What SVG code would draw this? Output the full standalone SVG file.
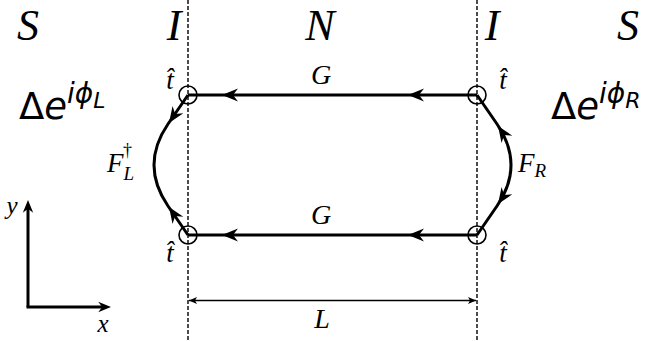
<svg xmlns="http://www.w3.org/2000/svg" width="646" height="341" viewBox="0 0 646 341">
<style>
.dash{stroke:#000;stroke-width:1.4;stroke-dasharray:4 2;fill:none}
.thick{stroke:#000;stroke-width:3;fill:none}
.circ{stroke:#000;stroke-width:1.6;fill:none}
.thin{stroke:#000;stroke-width:1.3;fill:none}
.m{font-family:"Liberation Serif","DejaVu Serif",serif;font-style:italic;fill:#000}
.s{font-family:"DejaVu Sans",sans-serif;fill:#000}
</style>
<defs>
<path id="ah" d="M0,0 L-16,-6.5 L-11,0 L-16,6.5 Z" fill="#000"/>
<path id="ahs" d="M0,0 L-8,-3.5 L-6,0 L-8,3.5 Z" fill="#000"/>
</defs>
<rect width="646" height="341" fill="#fff"/>
<g id="interfaces">
<line class="dash" x1="188" y1="0" x2="188" y2="341"/>
<line class="dash" x1="477" y1="0" x2="477" y2="341"/>
</g>
<g id="region-labels">
<text class="m" x="28" y="40" font-size="44" text-anchor="middle">S</text>
<text class="m" x="174" y="40" font-size="44" text-anchor="middle">I</text>
<text class="m" x="320" y="40" font-size="44" text-anchor="middle">N</text>
<text class="m" x="492" y="40" font-size="44" text-anchor="middle">I</text>
<text class="m" x="628" y="40" font-size="44" text-anchor="middle">S</text>
</g>
<g id="connectors">
<line class="thick" x1="477" y1="95" x2="188" y2="95"/>
<line class="thick" x1="477" y1="235" x2="188" y2="235"/>
<use href="#ah" transform="translate(222,95) rotate(180)"/>
<use href="#ah" transform="translate(408,95) rotate(180)"/>
<use href="#ah" transform="translate(222,235) rotate(180)"/>
<use href="#ah" transform="translate(408,235) rotate(180)"/>
<path class="thick" d="M188,95 L168,124 Q140,165 168,206 L188,235"/>
<use href="#ah" transform="translate(169,123) rotate(124)"/>
<use href="#ah" transform="translate(169,207) rotate(-124)"/>
<path class="thick" d="M477,95 L497,124 Q525,165 497,206 L477,235"/>
<use href="#ah" transform="translate(498,126) rotate(-124)"/>
<use href="#ah" transform="translate(498,204) rotate(124)"/>
</g>
<g id="vertices">
<circle class="circ" cx="188" cy="95" r="9"/>
<circle class="circ" cx="477" cy="95" r="9"/>
<circle class="circ" cx="188" cy="235" r="9"/>
<circle class="circ" cx="477" cy="235" r="9"/>
</g>
<g id="labels">
<text class="m" x="321" y="84" font-size="28" text-anchor="middle">G</text>
<text class="m" x="321" y="224" font-size="28" text-anchor="middle">G</text>
<text class="m" x="170" y="89" font-size="27" text-anchor="middle">t̂</text>
<text class="m" x="503" y="89" font-size="27" text-anchor="middle">t̂</text>
<text class="m" x="170" y="262" font-size="27" text-anchor="middle">t̂</text>
<text class="m" x="503" y="262" font-size="27" text-anchor="middle">t̂</text>
<text class="m" x="107" y="172" font-size="27">F<tspan font-size="19" dy="8">L</tspan><tspan font-size="18" dx="-11" dy="-24" font-style="normal">†</tspan></text>
<text class="m" x="518" y="172" font-size="27">F<tspan font-size="19" dy="5">R</tspan></text>
<text class="s" x="19" y="119" font-size="37">Δ<tspan font-style="italic">e</tspan><tspan font-size="28" dy="-16" font-style="italic">iϕ</tspan><tspan font-size="22" dy="5" font-style="italic">L</tspan></text>
<text class="s" x="551" y="119" font-size="37">Δ<tspan font-style="italic">e</tspan><tspan font-size="28" dy="-16" font-style="italic">iϕ</tspan><tspan font-size="22" dy="5" font-style="italic">R</tspan></text>
</g>
<g id="axes">
<line class="thick" x1="28" y1="307" x2="28" y2="205"/>
<line class="thick" x1="26.5" y1="307" x2="106" y2="307"/>
<use href="#ah" transform="translate(28,200) rotate(-90) scale(0.8)"/>
<use href="#ah" transform="translate(111,307) scale(0.8)"/>
<text class="m" x="12" y="214" font-size="25" text-anchor="middle">y</text>
<text class="m" x="103" y="332" font-size="25" text-anchor="middle">x</text>
</g>
<g id="dimension">
<line class="thin" x1="189" y1="300.5" x2="476" y2="300.5"/>
<use href="#ahs" transform="translate(189,300.5) rotate(180)"/>
<use href="#ahs" transform="translate(476,300.5)"/>
<text class="m" x="322" y="328" font-size="28" text-anchor="middle">L</text>
</g>
</svg>
